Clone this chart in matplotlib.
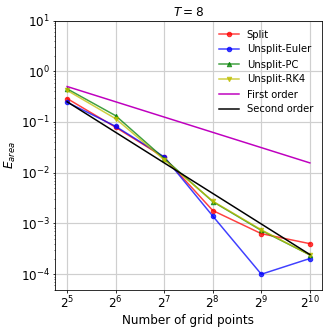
import matplotlib
matplotlib.use("Agg")
import matplotlib.pyplot as plt

N = [32, 64, 128, 256, 512, 1024]
split = [0.29, 0.0785, 0.020, 0.0018, 6.3e-4, 4.0e-4]
unsplit_euler = [0.245, 0.082, 0.0205, 0.0014, 1.0e-4, 2.04e-4]
unsplit_pc = [0.45, 0.133, 0.019, 0.0027, 7.3e-4, 2.4e-4]
unsplit_rk4 = [0.42, 0.116, 0.018, 0.00275, 7.5e-4, 2.4e-4]
first_order = [0.5, 0.25, 0.125, 0.0625, 0.03125, 0.015625]
second_order = [0.25, 0.0625, 0.015625, 0.00390625, 9.765625e-4, 2.44140625e-4]

fig = plt.figure(figsize=(329 / 72, 329 / 72), dpi=72)
ax = fig.add_axes([55 / 329, 1 - 289.5 / 329, 267 / 329, 269 / 329])
ax.plot(N, split, 'r-o', ms=4.5, alpha=0.75, label='Split')
ax.plot(N, unsplit_euler, 'b-o', ms=4.5, alpha=0.75, label='Unsplit-Euler')
ax.plot(N, unsplit_pc, 'g-^', ms=4.5, alpha=0.75, label='Unsplit-PC')
ax.plot(N, unsplit_rk4, 'y-v', ms=4.5, alpha=0.75, label='Unsplit-RK4')
ax.plot(N, first_order, 'm-', label='First order')
ax.plot(N, second_order, 'k-', label='Second order')
ax.set_xscale('log', base=2)
ax.set_yscale('log')
ax.set_ylim(5e-5, 10)
ax.set_xticks(N)
ax.tick_params(which='major', labelsize=12, length=2.5, pad=2.5)
ax.tick_params(which='minor', length=1.5)
ax.grid(True, color='#cfcfcf', lw=1.2)
ax.set_xlabel('Number of grid points', fontsize=12, labelpad=2.5)
ax.set_ylabel(r'$E_{area}$', fontsize=12, labelpad=2.5)
ax.set_title(r'$T=8$', fontsize=12, pad=4.3)
ax.legend(loc='upper right', frameon=False, fontsize=10)
fig.savefig('out.png', dpi=72)
